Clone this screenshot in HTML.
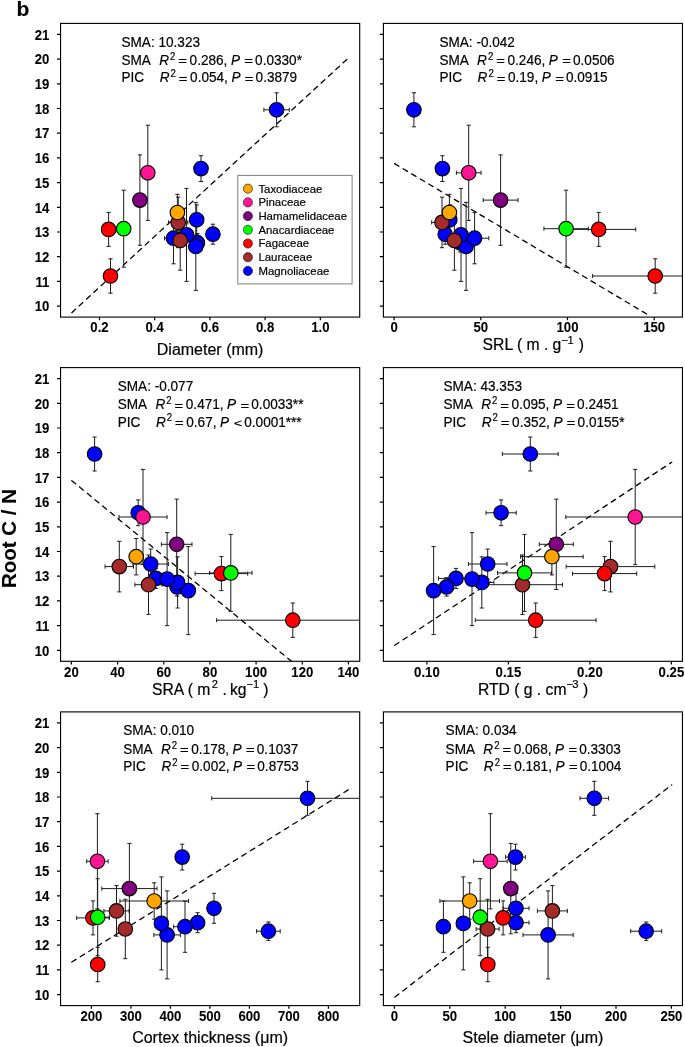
<!DOCTYPE html>
<html lang="en"><head><meta charset="utf-8"><title>Root C / N versus root traits</title>
<style>
html,body{margin:0;padding:0;background:#fff;}
body{width:685px;height:1047px;overflow:hidden;}
svg{display:block;font-family:"Liberation Sans",Arial,Helvetica,sans-serif;fill:#000;}
text{stroke:#000;stroke-width:0.2px;stroke-linejoin:round;}
.tk,.yl{stroke-width:0.08px;}
.tk{font-size:13.8px;font-weight:bold;}
.an{font-size:14.3px;}
.op{font-size:10.4px;}
.it{font-style:italic;}
.sup{font-size:10.1px;}
.xl{font-size:15.7px;}
.xs{font-size:11.2px;}
.lg{font-size:11.4px;}
.yl{font-size:20px;font-weight:bold;}
.fr{fill:none;stroke:#000;stroke-width:1.12;}
.ax{stroke:#000;stroke-width:1.2;fill:none;}
.eb{stroke:#1c1c1c;stroke-width:1.0;fill:none;}
.ds{stroke:#000;stroke-width:1.3;stroke-linecap:round;fill:none;}
.mk{stroke:#000;stroke-width:1.1;}
</style></head><body>
<svg width="685" height="1047" viewBox="0 0 685 1047">
<rect x="0" y="0" width="685" height="1047" fill="#fff"/>
<text class="yl" style="font-size:21px" x="16.5" y="15.7">b</text>
<text class="yl" style="font-size:20.5px" text-anchor="middle" transform="translate(15.7 538.5) rotate(-90)">Root C / N</text>
<g id="panel1">
<g>
<line class="ds" stroke-dasharray="5 4.97" x1="71.8" y1="312.67" x2="348.7" y2="57.69"/>
<path class="eb" d="M276.6 92.8V126.8M274.5 92.8h4.2M274.5 126.8h4.2M263.9 109.8H289.3M263.9 107.7v4.2M289.3 107.7v4.2M201 155.7V181.5M198.9 155.7h4.2M198.9 181.5h4.2M199 168.6H203M199 166.5v4.2M203 166.5v4.2M196.7 204.8V234.8M194.6 204.8h4.2M194.6 234.8h4.2M194.7 219.8H198.7M194.7 217.7v4.2M198.7 217.7v4.2M212.9 224.2V244.2M210.8 224.2h4.2M210.8 244.2h4.2M210.9 234.2H214.9M210.9 232.1v4.2M214.9 232.1v4.2M197.4 233.5V251.9M195.3 233.5h4.2M195.3 251.9h4.2M195.4 242.7H199.4M195.4 240.6v4.2M199.4 240.6v4.2M195.8 202.4V290.4M193.7 202.4h4.2M193.7 290.4h4.2M193.8 246.4H197.8M193.8 244.3v4.2M197.8 244.3v4.2M173.5 212.6V263.8M171.4 212.6h4.2M171.4 263.8h4.2M164.5 238.2H182.5M164.5 236.1v4.2M182.5 236.1v4.2M186.5 188.4V281.4M184.4 188.4h4.2M184.4 281.4h4.2M184.5 234.9H188.5M184.5 232.8v4.2M188.5 232.8v4.2M178.2 197.1V247.7M176.1 197.1h4.2M176.1 247.7h4.2M168.5 222.4H187.9M168.5 220.3v4.2M187.9 220.3v4.2M180.2 210.8V270.2M178.1 210.8h4.2M178.1 270.2h4.2M178.2 240.5H182.2M178.2 238.4v4.2M182.2 238.4v4.2M108.6 212.4V246.4M106.5 212.4h4.2M106.5 246.4h4.2M106.6 229.4H110.6M106.6 227.3v4.2M110.6 227.3v4.2M110.5 258.8V293.2M108.4 258.8h4.2M108.4 293.2h4.2M108.5 276H112.5M108.5 273.9v4.2M112.5 273.9v4.2M123.7 190.2V267.2M121.6 190.2h4.2M121.6 267.2h4.2M121.7 228.7H125.7M121.7 226.6v4.2M125.7 226.6v4.2M139.9 154.9V245.3M137.8 154.9h4.2M137.8 245.3h4.2M137.9 200.1H141.9M137.9 198v4.2M141.9 198v4.2M147.8 125.2V220.4M145.7 125.2h4.2M145.7 220.4h4.2M145.8 172.8H149.8M145.8 170.7v4.2M149.8 170.7v4.2M177.4 194.3V230.7M175.3 194.3h4.2M175.3 230.7h4.2M175.4 212.5H179.4M175.4 210.4v4.2M179.4 210.4v4.2"/>
<circle class="mk" cx="276.6" cy="109.8" r="7.28" fill="#0000FF"/>
<circle class="mk" cx="201" cy="168.6" r="7.28" fill="#0000FF"/>
<circle class="mk" cx="196.7" cy="219.8" r="7.28" fill="#0000FF"/>
<circle class="mk" cx="212.9" cy="234.2" r="7.28" fill="#0000FF"/>
<circle class="mk" cx="197.4" cy="242.7" r="7.28" fill="#0000FF"/>
<circle class="mk" cx="195.8" cy="246.4" r="7.28" fill="#0000FF"/>
<circle class="mk" cx="173.5" cy="238.2" r="7.28" fill="#0000FF"/>
<circle class="mk" cx="186.5" cy="234.9" r="7.28" fill="#0000FF"/>
<circle class="mk" cx="178.2" cy="222.4" r="7.28" fill="#A52A2A"/>
<circle class="mk" cx="180.2" cy="240.5" r="7.28" fill="#A52A2A"/>
<circle class="mk" cx="108.6" cy="229.4" r="7.28" fill="#FF0000"/>
<circle class="mk" cx="110.5" cy="276" r="7.28" fill="#FF0000"/>
<circle class="mk" cx="123.7" cy="228.7" r="7.28" fill="#00FF00"/>
<circle class="mk" cx="139.9" cy="200.1" r="7.28" fill="#800080"/>
<circle class="mk" cx="147.8" cy="172.8" r="7.28" fill="#FF1493"/>
<circle class="mk" cx="177.4" cy="212.5" r="7.28" fill="#FFA500"/>
</g>
<rect class="fr" x="60.55" y="23.4" width="299.15" height="293.7"/>
<path class="ax" d="M60.55 306.1h-3.6M60.55 281.4h-3.6M60.55 256.7h-3.6M60.55 232h-3.6M60.55 207.3h-3.6M60.55 182.6h-3.6M60.55 157.9h-3.6M60.55 133.2h-3.6M60.55 108.5h-3.6M60.55 83.8h-3.6M60.55 59.1h-3.6M60.55 34.4h-3.6M99.5 317.1v3.2M154.7 317.1v3.2M209.9 317.1v3.2M265.1 317.1v3.2M320.3 317.1v3.2"/>
<text class="tk" text-anchor="end" transform="translate(49.4 311.35) scale(0.955 1)">10</text>
<text class="tk" text-anchor="end" transform="translate(49.4 286.65) scale(0.955 1)">11</text>
<text class="tk" text-anchor="end" transform="translate(49.4 261.95) scale(0.955 1)">12</text>
<text class="tk" text-anchor="end" transform="translate(49.4 237.25) scale(0.955 1)">13</text>
<text class="tk" text-anchor="end" transform="translate(49.4 212.55) scale(0.955 1)">14</text>
<text class="tk" text-anchor="end" transform="translate(49.4 187.85) scale(0.955 1)">15</text>
<text class="tk" text-anchor="end" transform="translate(49.4 163.15) scale(0.955 1)">16</text>
<text class="tk" text-anchor="end" transform="translate(49.4 138.45) scale(0.955 1)">17</text>
<text class="tk" text-anchor="end" transform="translate(49.4 113.75) scale(0.955 1)">18</text>
<text class="tk" text-anchor="end" transform="translate(49.4 89.05) scale(0.955 1)">19</text>
<text class="tk" text-anchor="end" transform="translate(49.4 64.35) scale(0.955 1)">20</text>
<text class="tk" text-anchor="end" transform="translate(49.4 39.65) scale(0.955 1)">21</text>
<text class="tk" text-anchor="middle" transform="translate(99.5 332.4) scale(0.955 1)">0.2</text>
<text class="tk" text-anchor="middle" transform="translate(154.7 332.4) scale(0.955 1)">0.4</text>
<text class="tk" text-anchor="middle" transform="translate(209.9 332.4) scale(0.955 1)">0.6</text>
<text class="tk" text-anchor="middle" transform="translate(265.1 332.4) scale(0.955 1)">0.8</text>
<text class="tk" text-anchor="middle" transform="translate(320.3 332.4) scale(0.955 1)">1.0</text>
<text class="xl" style="font-size:16px" text-anchor="middle" x="210.125" y="354.5">Diameter (mm)</text>
<text class="an" transform="translate(121.5 46.9) scale(0.951 1)">SMA: 10.323</text>
<g transform="translate(121.5 64.9)"><text class="an" transform="scale(0.951 1)"><tspan x="0">SMA</tspan><tspan class="it" x="39.642">R</tspan><tspan class="sup" x="51.104" dy="-5.1">2</tspan><tspan x="71.609" dy="5.1">0.286,</tspan><tspan class="it" x="115.049">P</tspan><tspan x="140.496">0.0330*</tspan></text><text class="op" transform="translate(56.8 0.5) scale(1.42 1)">=</text><text class="op" transform="translate(122.812 0.5) scale(1.42 1)">=</text></g>
<g transform="translate(121.5 82.3)"><text class="an" transform="scale(0.951 1)"><tspan x="0">PIC</tspan><tspan class="it" x="40.168">R</tspan><tspan class="sup" x="51.63" dy="-5.1">2</tspan><tspan x="72.135" dy="5.1">0.054,</tspan><tspan class="it" x="115.575">P</tspan><tspan x="141.022">0.3879</tspan></text><text class="op" transform="translate(57.3 0.5) scale(1.42 1)">=</text><text class="op" transform="translate(123.312 0.5) scale(1.42 1)">=</text></g>
</g>
<g id="panel2">
<g>
<line class="ds" stroke-dasharray="5 4.945" x1="394.6" y1="163.68" x2="649" y2="315.4"/>
<path class="eb" d="M413.9 92.8V126.8M411.8 92.8h4.2M411.8 126.8h4.2M411.9 109.8H415.9M411.9 107.7v4.2M415.9 107.7v4.2M442.4 155.7V181.5M440.3 155.7h4.2M440.3 181.5h4.2M440.4 168.6H444.4M440.4 166.5v4.2M444.4 166.5v4.2M449.8 204.8V234.8M447.7 204.8h4.2M447.7 234.8h4.2M447.8 219.8H451.8M447.8 217.7v4.2M451.8 217.7v4.2M445.2 224.2V244.2M443.1 224.2h4.2M443.1 244.2h4.2M443.2 234.2H447.2M443.2 232.1v4.2M447.2 232.1v4.2M460 233.5V251.9M457.9 233.5h4.2M457.9 251.9h4.2M458 242.7H462M458 240.6v4.2M462 240.6v4.2M466.1 202.4V290.4M464 202.4h4.2M464 290.4h4.2M464.1 246.4H468.1M464.1 244.3v4.2M468.1 244.3v4.2M474.6 212.6V263.8M472.5 212.6h4.2M472.5 263.8h4.2M460.4 238.2H488.8M460.4 236.1v4.2M488.8 236.1v4.2M461 188.4V281.4M458.9 188.4h4.2M458.9 281.4h4.2M459 234.9H463M459 232.8v4.2M463 232.8v4.2M442 197.1V247.7M439.9 197.1h4.2M439.9 247.7h4.2M431.7 222.4H452.3M431.7 220.3v4.2M452.3 220.3v4.2M454.4 210.8V270.2M452.3 210.8h4.2M452.3 270.2h4.2M452.4 240.5H456.4M452.4 238.4v4.2M456.4 238.4v4.2M598.7 212.4V246.4M596.6 212.4h4.2M596.6 246.4h4.2M561.7 229.4H635.7M561.7 227.3v4.2M635.7 227.3v4.2M655.2 258.8V293.2M653.1 258.8h4.2M653.1 293.2h4.2M592.6 276H682.45M592.6 273.9v4.2M566.1 190.2V267.2M564 190.2h4.2M564 267.2h4.2M543.9 228.7H588.3M543.9 226.6v4.2M588.3 226.6v4.2M500.6 154.9V245.3M498.5 154.9h4.2M498.5 245.3h4.2M483.2 200.1H518M483.2 198v4.2M518 198v4.2M468.7 125.2V220.4M466.6 125.2h4.2M466.6 220.4h4.2M456.4 172.8H481M456.4 170.7v4.2M481 170.7v4.2M449.4 194.3V230.7M447.3 194.3h4.2M447.3 230.7h4.2M447.4 212.5H451.4M447.4 210.4v4.2M451.4 210.4v4.2"/>
<circle class="mk" cx="413.9" cy="109.8" r="7.28" fill="#0000FF"/>
<circle class="mk" cx="442.4" cy="168.6" r="7.28" fill="#0000FF"/>
<circle class="mk" cx="449.8" cy="219.8" r="7.28" fill="#0000FF"/>
<circle class="mk" cx="445.2" cy="234.2" r="7.28" fill="#0000FF"/>
<circle class="mk" cx="460" cy="242.7" r="7.28" fill="#0000FF"/>
<circle class="mk" cx="466.1" cy="246.4" r="7.28" fill="#0000FF"/>
<circle class="mk" cx="474.6" cy="238.2" r="7.28" fill="#0000FF"/>
<circle class="mk" cx="461" cy="234.9" r="7.28" fill="#0000FF"/>
<circle class="mk" cx="442" cy="222.4" r="7.28" fill="#A52A2A"/>
<circle class="mk" cx="454.4" cy="240.5" r="7.28" fill="#A52A2A"/>
<circle class="mk" cx="598.7" cy="229.4" r="7.28" fill="#FF0000"/>
<circle class="mk" cx="655.2" cy="276" r="7.28" fill="#FF0000"/>
<circle class="mk" cx="566.1" cy="228.7" r="7.28" fill="#00FF00"/>
<circle class="mk" cx="500.6" cy="200.1" r="7.28" fill="#800080"/>
<circle class="mk" cx="468.7" cy="172.8" r="7.28" fill="#FF1493"/>
<circle class="mk" cx="449.4" cy="212.5" r="7.28" fill="#FFA500"/>
</g>
<rect class="fr" x="383.4" y="23.4" width="299.05" height="293.7"/>
<path class="ax" d="M383.4 306.1h-3.6M383.4 281.4h-3.6M383.4 256.7h-3.6M383.4 232h-3.6M383.4 207.3h-3.6M383.4 182.6h-3.6M383.4 157.9h-3.6M383.4 133.2h-3.6M383.4 108.5h-3.6M383.4 83.8h-3.6M383.4 59.1h-3.6M383.4 34.4h-3.6M394.1 317.1v3.2M480.8 317.1v3.2M567.5 317.1v3.2M654.2 317.1v3.2"/>
<text class="tk" text-anchor="middle" transform="translate(394.1 332.4) scale(0.955 1)">0</text>
<text class="tk" text-anchor="middle" transform="translate(480.8 332.4) scale(0.955 1)">50</text>
<text class="tk" text-anchor="middle" transform="translate(567.5 332.4) scale(0.955 1)">100</text>
<text class="tk" text-anchor="middle" transform="translate(654.2 332.4) scale(0.955 1)">150</text>
<text class="xl"><tspan x="482.6" y="350.3">SRL ( m . g</tspan><tspan class="xs" x="561.5" y="343.9">−</tspan><tspan class="xs" x="567.5" y="343.9">1</tspan><tspan x="578.8" y="350.3">)</tspan></text>
<text class="an" transform="translate(439.4 46.9) scale(0.951 1)">SMA: -0.042</text>
<g transform="translate(439.4 64.9)"><text class="an" transform="scale(0.951 1)"><tspan x="0">SMA</tspan><tspan class="it" x="39.642">R</tspan><tspan class="sup" x="51.104" dy="-5.1">2</tspan><tspan x="71.609" dy="5.1">0.246,</tspan><tspan class="it" x="115.049">P</tspan><tspan x="140.496">0.0506</tspan></text><text class="op" transform="translate(56.8 0.5) scale(1.42 1)">=</text><text class="op" transform="translate(122.812 0.5) scale(1.42 1)">=</text></g>
<g transform="translate(439.4 82.3)"><text class="an" transform="scale(0.951 1)"><tspan x="0">PIC</tspan><tspan class="it" x="40.168">R</tspan><tspan class="sup" x="51.63" dy="-5.1">2</tspan><tspan x="72.135" dy="5.1">0.19,</tspan><tspan class="it" x="107.621">P</tspan><tspan x="133.068">0.0915</tspan></text><text class="op" transform="translate(57.3 0.5) scale(1.42 1)">=</text><text class="op" transform="translate(115.748 0.5) scale(1.42 1)">=</text></g>
</g>
<g id="panel3">
<g>
<line class="ds" stroke-dasharray="5 4.986" x1="71.8" y1="480.64" x2="291.195" y2="661.1"/>
<path class="eb" d="M94.6 437V471M92.5 437h4.2M92.5 471h4.2M92.6 454H96.6M92.6 451.9v4.2M96.6 451.9v4.2M138.2 499.9V525.7M136.1 499.9h4.2M136.1 525.7h4.2M136.2 512.8H140.2M136.2 510.7v4.2M140.2 510.7v4.2M150.7 549V579M148.6 549h4.2M148.6 579h4.2M133 564H168.4M133 561.9v4.2M168.4 561.9v4.2M155.9 568.4V588.4M153.8 568.4h4.2M153.8 588.4h4.2M153.9 578.4H157.9M153.9 576.3v4.2M157.9 576.3v4.2M177.1 577.7V596.1M175 577.7h4.2M175 596.1h4.2M175.1 586.9H179.1M175.1 584.8v4.2M179.1 584.8v4.2M188.3 546.6V634.6M186.2 546.6h4.2M186.2 634.6h4.2M186.3 590.6H190.3M186.3 588.5v4.2M190.3 588.5v4.2M177.6 556.8V608M175.5 556.8h4.2M175.5 608h4.2M175.6 582.4H179.6M175.6 580.3v4.2M179.6 580.3v4.2M167.1 532.6V625.6M165 532.6h4.2M165 625.6h4.2M165.1 579.1H169.1M165.1 577v4.2M169.1 577v4.2M119.3 541.3V591.9M117.2 541.3h4.2M117.2 591.9h4.2M105.1 566.6H133.5M105.1 564.5v4.2M133.5 564.5v4.2M148.5 555V614.4M146.4 555h4.2M146.4 614.4h4.2M134.9 584.7H162.1M134.9 582.6v4.2M162.1 582.6v4.2M221.4 556.6V590.6M219.3 556.6h4.2M219.3 590.6h4.2M195.1 573.6H247.7M195.1 571.5v4.2M247.7 571.5v4.2M292.8 603V637.4M290.7 603h4.2M290.7 637.4h4.2M216.6 620.2H359.7M216.6 618.1v4.2M230.8 534.4V611.4M228.7 534.4h4.2M228.7 611.4h4.2M209.6 572.9H252M209.6 570.8v4.2M252 570.8v4.2M176.7 499.1V589.5M174.6 499.1h4.2M174.6 589.5h4.2M161.4 544.3H192M161.4 542.2v4.2M192 542.2v4.2M143 469.4V564.6M140.9 469.4h4.2M140.9 564.6h4.2M119 517H167M119 514.9v4.2M167 514.9v4.2M136.2 538.5V574.9M134.1 538.5h4.2M134.1 574.9h4.2M134.2 556.7H138.2M134.2 554.6v4.2M138.2 554.6v4.2"/>
<circle class="mk" cx="94.6" cy="454" r="7.28" fill="#0000FF"/>
<circle class="mk" cx="138.2" cy="512.8" r="7.28" fill="#0000FF"/>
<circle class="mk" cx="150.7" cy="564" r="7.28" fill="#0000FF"/>
<circle class="mk" cx="155.9" cy="578.4" r="7.28" fill="#0000FF"/>
<circle class="mk" cx="177.1" cy="586.9" r="7.28" fill="#0000FF"/>
<circle class="mk" cx="188.3" cy="590.6" r="7.28" fill="#0000FF"/>
<circle class="mk" cx="177.6" cy="582.4" r="7.28" fill="#0000FF"/>
<circle class="mk" cx="167.1" cy="579.1" r="7.28" fill="#0000FF"/>
<circle class="mk" cx="119.3" cy="566.6" r="7.28" fill="#A52A2A"/>
<circle class="mk" cx="148.5" cy="584.7" r="7.28" fill="#A52A2A"/>
<circle class="mk" cx="221.4" cy="573.6" r="7.28" fill="#FF0000"/>
<circle class="mk" cx="292.8" cy="620.2" r="7.28" fill="#FF0000"/>
<circle class="mk" cx="230.8" cy="572.9" r="7.28" fill="#00FF00"/>
<circle class="mk" cx="176.7" cy="544.3" r="7.28" fill="#800080"/>
<circle class="mk" cx="143" cy="517" r="7.28" fill="#FF1493"/>
<circle class="mk" cx="136.2" cy="556.7" r="7.28" fill="#FFA500"/>
</g>
<rect class="fr" x="60.55" y="367.6" width="299.15" height="293.7"/>
<path class="ax" d="M60.55 650.3h-3.6M60.55 625.6h-3.6M60.55 600.9h-3.6M60.55 576.2h-3.6M60.55 551.5h-3.6M60.55 526.8h-3.6M60.55 502.1h-3.6M60.55 477.4h-3.6M60.55 452.7h-3.6M60.55 428h-3.6M60.55 403.3h-3.6M60.55 378.6h-3.6M71.4 661.3v3.2M117.6 661.3v3.2M163.8 661.3v3.2M209.9 661.3v3.2M256.1 661.3v3.2M302.3 661.3v3.2M348.4 661.3v3.2"/>
<text class="tk" text-anchor="end" transform="translate(49.4 655.55) scale(0.955 1)">10</text>
<text class="tk" text-anchor="end" transform="translate(49.4 630.85) scale(0.955 1)">11</text>
<text class="tk" text-anchor="end" transform="translate(49.4 606.15) scale(0.955 1)">12</text>
<text class="tk" text-anchor="end" transform="translate(49.4 581.45) scale(0.955 1)">13</text>
<text class="tk" text-anchor="end" transform="translate(49.4 556.75) scale(0.955 1)">14</text>
<text class="tk" text-anchor="end" transform="translate(49.4 532.05) scale(0.955 1)">15</text>
<text class="tk" text-anchor="end" transform="translate(49.4 507.35) scale(0.955 1)">16</text>
<text class="tk" text-anchor="end" transform="translate(49.4 482.65) scale(0.955 1)">17</text>
<text class="tk" text-anchor="end" transform="translate(49.4 457.95) scale(0.955 1)">18</text>
<text class="tk" text-anchor="end" transform="translate(49.4 433.25) scale(0.955 1)">19</text>
<text class="tk" text-anchor="end" transform="translate(49.4 408.55) scale(0.955 1)">20</text>
<text class="tk" text-anchor="end" transform="translate(49.4 383.85) scale(0.955 1)">21</text>
<text class="tk" text-anchor="middle" transform="translate(71.4 676.6) scale(0.955 1)">20</text>
<text class="tk" text-anchor="middle" transform="translate(117.6 676.6) scale(0.955 1)">40</text>
<text class="tk" text-anchor="middle" transform="translate(163.8 676.6) scale(0.955 1)">60</text>
<text class="tk" text-anchor="middle" transform="translate(209.9 676.6) scale(0.955 1)">80</text>
<text class="tk" text-anchor="middle" transform="translate(256.1 676.6) scale(0.955 1)">100</text>
<text class="tk" text-anchor="middle" transform="translate(302.3 676.6) scale(0.955 1)">120</text>
<text class="tk" text-anchor="middle" transform="translate(348.4 676.6) scale(0.955 1)">140</text>
<text class="xl"><tspan x="152" y="694.5">SRA ( m</tspan><tspan class="xs" x="211.8" y="688.1">2</tspan><tspan x="222.5" y="694.5">.</tspan><tspan x="230" y="694.5">kg</tspan><tspan class="xs" x="246.4" y="688.1">−</tspan><tspan class="xs" x="252.9" y="688.1">1</tspan><tspan x="263.3" y="694.5">)</tspan></text>
<text class="an" transform="translate(117.7 391.1) scale(0.951 1)">SMA: -0.077</text>
<g transform="translate(117.7 409.1)"><text class="an" transform="scale(0.951 1)"><tspan x="0">SMA</tspan><tspan class="it" x="39.642">R</tspan><tspan class="sup" x="51.104" dy="-5.1">2</tspan><tspan x="71.609" dy="5.1">0.471,</tspan><tspan class="it" x="115.049">P</tspan><tspan x="140.496">0.0033**</tspan></text><text class="op" transform="translate(56.8 0.5) scale(1.42 1)">=</text><text class="op" transform="translate(122.812 0.5) scale(1.42 1)">=</text></g>
<g transform="translate(117.7 426.5)"><text class="an" transform="scale(0.951 1)"><tspan x="0">PIC</tspan><tspan class="it" x="40.168">R</tspan><tspan class="sup" x="51.63" dy="-5.1">2</tspan><tspan x="72.135" dy="5.1">0.67,</tspan><tspan class="it" x="107.621">P</tspan><tspan x="133.068">0.0001***</tspan></text><text class="op" transform="translate(57.3 0.5) scale(1.42 1)">=</text><text class="op" style="font-size:11.4px" transform="translate(116.048 0) scale(1.26 1)">&lt;</text></g>
</g>
<g id="panel4">
<g>
<line class="ds" stroke-dasharray="5 4.985" x1="394.75" y1="645.33" x2="671.7" y2="462.23"/>
<path class="eb" d="M530.3 437V471M528.2 437h4.2M528.2 471h4.2M502.4 454H558.2M502.4 451.9v4.2M558.2 451.9v4.2M501.1 499.9V525.7M499 499.9h4.2M499 525.7h4.2M486 512.8H516.2M486 510.7v4.2M516.2 510.7v4.2M487.7 549V579M485.6 549h4.2M485.6 579h4.2M468.4 564H507M468.4 561.9v4.2M507 561.9v4.2M456 568.4V588.4M453.9 568.4h4.2M453.9 588.4h4.2M438.5 578.4H473.5M438.5 576.3v4.2M473.5 576.3v4.2M446.6 577.7V596.1M444.5 577.7h4.2M444.5 596.1h4.2M444.6 586.9H448.6M444.6 584.8v4.2M448.6 584.8v4.2M433.6 546.6V634.6M431.5 546.6h4.2M431.5 634.6h4.2M431.6 590.6H435.6M431.6 588.5v4.2M435.6 588.5v4.2M481.8 556.8V608M479.7 556.8h4.2M479.7 608h4.2M469.7 582.4H493.9M469.7 580.3v4.2M493.9 580.3v4.2M472 532.6V625.6M469.9 532.6h4.2M469.9 625.6h4.2M470 579.1H474M470 577v4.2M474 577v4.2M610.5 541.3V591.9M608.4 541.3h4.2M608.4 591.9h4.2M566.2 566.6H654.8M566.2 564.5v4.2M654.8 564.5v4.2M522.5 555V614.4M520.4 555h4.2M520.4 614.4h4.2M482.5 584.7H562.5M482.5 582.6v4.2M562.5 582.6v4.2M604.6 556.6V590.6M602.5 556.6h4.2M602.5 590.6h4.2M572.5 573.6H636.7M572.5 571.5v4.2M636.7 571.5v4.2M535.7 603V637.4M533.6 603h4.2M533.6 637.4h4.2M475.3 620.2H596.1M475.3 618.1v4.2M596.1 618.1v4.2M524.5 534.4V611.4M522.4 534.4h4.2M522.4 611.4h4.2M497.5 572.9H551.5M497.5 570.8v4.2M551.5 570.8v4.2M556.3 499.1V589.5M554.2 499.1h4.2M554.2 589.5h4.2M539.3 544.3H573.3M539.3 542.2v4.2M573.3 542.2v4.2M635.2 469.4V564.6M633.1 469.4h4.2M633.1 564.6h4.2M565.8 517H682.45M565.8 514.9v4.2M551.9 538.5V574.9M549.8 538.5h4.2M549.8 574.9h4.2M520.6 556.7H583.2M520.6 554.6v4.2M583.2 554.6v4.2"/>
<circle class="mk" cx="530.3" cy="454" r="7.28" fill="#0000FF"/>
<circle class="mk" cx="501.1" cy="512.8" r="7.28" fill="#0000FF"/>
<circle class="mk" cx="487.7" cy="564" r="7.28" fill="#0000FF"/>
<circle class="mk" cx="456" cy="578.4" r="7.28" fill="#0000FF"/>
<circle class="mk" cx="446.6" cy="586.9" r="7.28" fill="#0000FF"/>
<circle class="mk" cx="433.6" cy="590.6" r="7.28" fill="#0000FF"/>
<circle class="mk" cx="481.8" cy="582.4" r="7.28" fill="#0000FF"/>
<circle class="mk" cx="472" cy="579.1" r="7.28" fill="#0000FF"/>
<circle class="mk" cx="610.5" cy="566.6" r="7.28" fill="#A52A2A"/>
<circle class="mk" cx="522.5" cy="584.7" r="7.28" fill="#A52A2A"/>
<circle class="mk" cx="604.6" cy="573.6" r="7.28" fill="#FF0000"/>
<circle class="mk" cx="535.7" cy="620.2" r="7.28" fill="#FF0000"/>
<circle class="mk" cx="524.5" cy="572.9" r="7.28" fill="#00FF00"/>
<circle class="mk" cx="556.3" cy="544.3" r="7.28" fill="#800080"/>
<circle class="mk" cx="635.2" cy="517" r="7.28" fill="#FF1493"/>
<circle class="mk" cx="551.9" cy="556.7" r="7.28" fill="#FFA500"/>
</g>
<rect class="fr" x="383.4" y="367.6" width="299.05" height="293.7"/>
<path class="ax" d="M383.4 650.3h-3.6M383.4 625.6h-3.6M383.4 600.9h-3.6M383.4 576.2h-3.6M383.4 551.5h-3.6M383.4 526.8h-3.6M383.4 502.1h-3.6M383.4 477.4h-3.6M383.4 452.7h-3.6M383.4 428h-3.6M383.4 403.3h-3.6M383.4 378.6h-3.6M426.9 661.3v3.2M508.4 661.3v3.2M589.9 661.3v3.2M671.4 661.3v3.2"/>
<text class="tk" text-anchor="middle" transform="translate(426.9 676.6) scale(0.955 1)">0.10</text>
<text class="tk" text-anchor="middle" transform="translate(508.4 676.6) scale(0.955 1)">0.15</text>
<text class="tk" text-anchor="middle" transform="translate(589.9 676.6) scale(0.955 1)">0.20</text>
<text class="tk" text-anchor="middle" transform="translate(671.4 676.6) scale(0.955 1)">0.25</text>
<text class="xl"><tspan x="477.9" y="694.5">RTD ( g . cm</tspan><tspan class="xs" x="566.4" y="688.1">−</tspan><tspan class="xs" x="572.2" y="688.1">3</tspan><tspan x="582.9" y="694.5">)</tspan></text>
<text class="an" transform="translate(443.5 391.1) scale(0.951 1)">SMA: 43.353</text>
<g transform="translate(443.5 409.1)"><text class="an" transform="scale(0.951 1)"><tspan x="0">SMA</tspan><tspan class="it" x="39.642">R</tspan><tspan class="sup" x="51.104" dy="-5.1">2</tspan><tspan x="71.609" dy="5.1">0.095,</tspan><tspan class="it" x="115.049">P</tspan><tspan x="140.496">0.2451</tspan></text><text class="op" transform="translate(56.8 0.5) scale(1.42 1)">=</text><text class="op" transform="translate(122.812 0.5) scale(1.42 1)">=</text></g>
<g transform="translate(443.5 426.5)"><text class="an" transform="scale(0.951 1)"><tspan x="0">PIC</tspan><tspan class="it" x="40.168">R</tspan><tspan class="sup" x="51.63" dy="-5.1">2</tspan><tspan x="72.135" dy="5.1">0.352,</tspan><tspan class="it" x="115.575">P</tspan><tspan x="141.022">0.0155*</tspan></text><text class="op" transform="translate(57.3 0.5) scale(1.42 1)">=</text><text class="op" transform="translate(123.312 0.5) scale(1.42 1)">=</text></g>
</g>
<g id="panel5">
<g>
<line class="ds" stroke-dasharray="5 5.02" x1="71.8" y1="962.04" x2="348.7" y2="789.6"/>
<path class="eb" d="M307.5 781.3V815.3M305.4 781.3h4.2M305.4 815.3h4.2M211.7 798.3H359.7M211.7 796.2v4.2M182.2 844.2V870M180.1 844.2h4.2M180.1 870h4.2M180.2 857.1H184.2M180.2 855v4.2M184.2 855v4.2M214 893.3V923.3M211.9 893.3h4.2M211.9 923.3h4.2M212 908.3H216M212 906.2v4.2M216 906.2v4.2M197.6 912.7V932.7M195.5 912.7h4.2M195.5 932.7h4.2M195.6 922.7H199.6M195.6 920.6v4.2M199.6 920.6v4.2M268.4 922V940.4M266.3 922h4.2M266.3 940.4h4.2M256.6 931.2H280.2M256.6 929.1v4.2M280.2 929.1v4.2M167.1 890.9V978.9M165 890.9h4.2M165 978.9h4.2M153.8 934.9H180.4M153.8 932.8v4.2M180.4 932.8v4.2M185 901.1V952.3M182.9 901.1h4.2M182.9 952.3h4.2M173.6 926.7H196.4M173.6 924.6v4.2M196.4 924.6v4.2M161.4 876.9V969.9M159.3 876.9h4.2M159.3 969.9h4.2M159.4 923.4H163.4M159.4 921.3v4.2M163.4 921.3v4.2M116.5 885.6V936.2M114.4 885.6h4.2M114.4 936.2h4.2M103.9 910.9H129.1M103.9 908.8v4.2M129.1 908.8v4.2M125.3 899.3V958.7M123.2 899.3h4.2M123.2 958.7h4.2M123.3 929H127.3M123.3 926.9v4.2M127.3 926.9v4.2M93 900.9V934.9M90.9 900.9h4.2M90.9 934.9h4.2M76.7 917.9H109.3M76.7 915.8v4.2M109.3 915.8v4.2M97.7 947.3V981.7M95.6 947.3h4.2M95.6 981.7h4.2M95.7 964.5H99.7M95.7 962.4v4.2M99.7 962.4v4.2M97.7 878.7V955.7M95.6 878.7h4.2M95.6 955.7h4.2M86.1 917.2H109.3M86.1 915.1v4.2M109.3 915.1v4.2M129.4 843.4V933.8M127.3 843.4h4.2M127.3 933.8h4.2M101.8 888.6H157M101.8 886.5v4.2M157 886.5v4.2M97.4 813.7V908.9M95.3 813.7h4.2M95.3 908.9h4.2M86.7 861.3H108.1M86.7 859.2v4.2M108.1 859.2v4.2M154.2 882.8V919.2M152.1 882.8h4.2M152.1 919.2h4.2M119.9 901H188.5M119.9 898.9v4.2M188.5 898.9v4.2"/>
<circle class="mk" cx="307.5" cy="798.3" r="7.28" fill="#0000FF"/>
<circle class="mk" cx="182.2" cy="857.1" r="7.28" fill="#0000FF"/>
<circle class="mk" cx="214" cy="908.3" r="7.28" fill="#0000FF"/>
<circle class="mk" cx="197.6" cy="922.7" r="7.28" fill="#0000FF"/>
<circle class="mk" cx="268.4" cy="931.2" r="7.28" fill="#0000FF"/>
<circle class="mk" cx="167.1" cy="934.9" r="7.28" fill="#0000FF"/>
<circle class="mk" cx="185" cy="926.7" r="7.28" fill="#0000FF"/>
<circle class="mk" cx="161.4" cy="923.4" r="7.28" fill="#0000FF"/>
<circle class="mk" cx="116.5" cy="910.9" r="7.28" fill="#A52A2A"/>
<circle class="mk" cx="125.3" cy="929" r="7.28" fill="#A52A2A"/>
<circle class="mk" cx="93" cy="917.9" r="7.28" fill="#FF0000"/>
<circle class="mk" cx="97.7" cy="964.5" r="7.28" fill="#FF0000"/>
<circle class="mk" cx="97.7" cy="917.2" r="7.28" fill="#00FF00"/>
<circle class="mk" cx="129.4" cy="888.6" r="7.28" fill="#800080"/>
<circle class="mk" cx="97.4" cy="861.3" r="7.28" fill="#FF1493"/>
<circle class="mk" cx="154.2" cy="901" r="7.28" fill="#FFA500"/>
</g>
<rect class="fr" x="60.55" y="711.9" width="299.15" height="293.7"/>
<path class="ax" d="M60.55 994.6h-3.6M60.55 969.9h-3.6M60.55 945.2h-3.6M60.55 920.5h-3.6M60.55 895.8h-3.6M60.55 871.1h-3.6M60.55 846.4h-3.6M60.55 821.7h-3.6M60.55 797h-3.6M60.55 772.3h-3.6M60.55 747.6h-3.6M60.55 722.9h-3.6M91.4 1005.6v3.2M130.9 1005.6v3.2M170.4 1005.6v3.2M209.9 1005.6v3.2M249.4 1005.6v3.2M288.9 1005.6v3.2M328.4 1005.6v3.2"/>
<text class="tk" text-anchor="end" transform="translate(49.4 999.85) scale(0.955 1)">10</text>
<text class="tk" text-anchor="end" transform="translate(49.4 975.15) scale(0.955 1)">11</text>
<text class="tk" text-anchor="end" transform="translate(49.4 950.45) scale(0.955 1)">12</text>
<text class="tk" text-anchor="end" transform="translate(49.4 925.75) scale(0.955 1)">13</text>
<text class="tk" text-anchor="end" transform="translate(49.4 901.05) scale(0.955 1)">14</text>
<text class="tk" text-anchor="end" transform="translate(49.4 876.35) scale(0.955 1)">15</text>
<text class="tk" text-anchor="end" transform="translate(49.4 851.65) scale(0.955 1)">16</text>
<text class="tk" text-anchor="end" transform="translate(49.4 826.95) scale(0.955 1)">17</text>
<text class="tk" text-anchor="end" transform="translate(49.4 802.25) scale(0.955 1)">18</text>
<text class="tk" text-anchor="end" transform="translate(49.4 777.55) scale(0.955 1)">19</text>
<text class="tk" text-anchor="end" transform="translate(49.4 752.85) scale(0.955 1)">20</text>
<text class="tk" text-anchor="end" transform="translate(49.4 728.15) scale(0.955 1)">21</text>
<text class="tk" text-anchor="middle" transform="translate(91.4 1020.9) scale(0.955 1)">200</text>
<text class="tk" text-anchor="middle" transform="translate(130.9 1020.9) scale(0.955 1)">300</text>
<text class="tk" text-anchor="middle" transform="translate(170.4 1020.9) scale(0.955 1)">400</text>
<text class="tk" text-anchor="middle" transform="translate(209.9 1020.9) scale(0.955 1)">500</text>
<text class="tk" text-anchor="middle" transform="translate(249.4 1020.9) scale(0.955 1)">600</text>
<text class="tk" text-anchor="middle" transform="translate(288.9 1020.9) scale(0.955 1)">700</text>
<text class="tk" text-anchor="middle" transform="translate(328.4 1020.9) scale(0.955 1)">800</text>
<text class="xl" style="font-size:16px" text-anchor="middle" x="210.125" y="1043">Cortex thickness (μm)</text>
<text class="an" transform="translate(123.2 735.4) scale(0.951 1)">SMA: 0.010</text>
<g transform="translate(123.2 753.9)"><text class="an" transform="scale(0.951 1)"><tspan x="0">SMA</tspan><tspan class="it" x="39.642">R</tspan><tspan class="sup" x="51.104" dy="-5.1">2</tspan><tspan x="71.609" dy="5.1">0.178,</tspan><tspan class="it" x="115.049">P</tspan><tspan x="140.496">0.1037</tspan></text><text class="op" transform="translate(56.8 0.5) scale(1.42 1)">=</text><text class="op" transform="translate(122.812 0.5) scale(1.42 1)">=</text></g>
<g transform="translate(123.2 770.8)"><text class="an" transform="scale(0.951 1)"><tspan x="0">PIC</tspan><tspan class="it" x="40.168">R</tspan><tspan class="sup" x="51.63" dy="-5.1">2</tspan><tspan x="72.135" dy="5.1">0.002,</tspan><tspan class="it" x="115.575">P</tspan><tspan x="141.022">0.8753</tspan></text><text class="op" transform="translate(57.3 0.5) scale(1.42 1)">=</text><text class="op" transform="translate(123.312 0.5) scale(1.42 1)">=</text></g>
</g>
<g id="panel6">
<g>
<line class="ds" stroke-dasharray="5 4.96" x1="394.9" y1="997" x2="671.7" y2="785"/>
<path class="eb" d="M594.3 781.3V815.3M592.2 781.3h4.2M592.2 815.3h4.2M580 798.3H608.6M580 796.2v4.2M608.6 796.2v4.2M515.5 844.2V870M513.4 844.2h4.2M513.4 870h4.2M505.6 857.1H525.4M505.6 855v4.2M525.4 855v4.2M516 893.3V923.3M513.9 893.3h4.2M513.9 923.3h4.2M503 908.3H529M503 906.2v4.2M529 906.2v4.2M516 912.7V932.7M513.9 912.7h4.2M513.9 932.7h4.2M503 922.7H529M503 920.6v4.2M529 920.6v4.2M646.2 922V940.4M644.1 922h4.2M644.1 940.4h4.2M630.7 931.2H661.7M630.7 929.1v4.2M661.7 929.1v4.2M548.1 890.9V978.9M546 890.9h4.2M546 978.9h4.2M523 934.9H573.2M523 932.8v4.2M573.2 932.8v4.2M443.4 901.1V952.3M441.3 901.1h4.2M441.3 952.3h4.2M441.4 926.7H445.4M441.4 924.6v4.2M445.4 924.6v4.2M463.3 876.9V969.9M461.2 876.9h4.2M461.2 969.9h4.2M461.3 923.4H465.3M461.3 921.3v4.2M465.3 921.3v4.2M552.4 885.6V936.2M550.3 885.6h4.2M550.3 936.2h4.2M537.4 910.9H567.4M537.4 908.8v4.2M567.4 908.8v4.2M487.6 899.3V958.7M485.5 899.3h4.2M485.5 958.7h4.2M476.1 929H499.1M476.1 926.9v4.2M499.1 926.9v4.2M503.1 900.9V934.9M501 900.9h4.2M501 934.9h4.2M501.1 917.9H505.1M501.1 915.8v4.2M505.1 915.8v4.2M487.8 947.3V981.7M485.7 947.3h4.2M485.7 981.7h4.2M485.8 964.5H489.8M485.8 962.4v4.2M489.8 962.4v4.2M480.2 878.7V955.7M478.1 878.7h4.2M478.1 955.7h4.2M478.2 917.2H482.2M478.2 915.1v4.2M482.2 915.1v4.2M510.8 843.4V933.8M508.7 843.4h4.2M508.7 933.8h4.2M508.8 888.6H512.8M508.8 886.5v4.2M512.8 886.5v4.2M490.4 813.7V908.9M488.3 813.7h4.2M488.3 908.9h4.2M473.6 861.3H507.2M473.6 859.2v4.2M507.2 859.2v4.2M469.7 882.8V919.2M467.6 882.8h4.2M467.6 919.2h4.2M439.9 901H499.5M439.9 898.9v4.2M499.5 898.9v4.2"/>
<circle class="mk" cx="594.3" cy="798.3" r="7.28" fill="#0000FF"/>
<circle class="mk" cx="515.5" cy="857.1" r="7.28" fill="#0000FF"/>
<circle class="mk" cx="516" cy="908.3" r="7.28" fill="#0000FF"/>
<circle class="mk" cx="516" cy="922.7" r="7.28" fill="#0000FF"/>
<circle class="mk" cx="646.2" cy="931.2" r="7.28" fill="#0000FF"/>
<circle class="mk" cx="548.1" cy="934.9" r="7.28" fill="#0000FF"/>
<circle class="mk" cx="443.4" cy="926.7" r="7.28" fill="#0000FF"/>
<circle class="mk" cx="463.3" cy="923.4" r="7.28" fill="#0000FF"/>
<circle class="mk" cx="552.4" cy="910.9" r="7.28" fill="#A52A2A"/>
<circle class="mk" cx="487.6" cy="929" r="7.28" fill="#A52A2A"/>
<circle class="mk" cx="503.1" cy="917.9" r="7.28" fill="#FF0000"/>
<circle class="mk" cx="487.8" cy="964.5" r="7.28" fill="#FF0000"/>
<circle class="mk" cx="480.2" cy="917.2" r="7.28" fill="#00FF00"/>
<circle class="mk" cx="510.8" cy="888.6" r="7.28" fill="#800080"/>
<circle class="mk" cx="490.4" cy="861.3" r="7.28" fill="#FF1493"/>
<circle class="mk" cx="469.7" cy="901" r="7.28" fill="#FFA500"/>
</g>
<rect class="fr" x="383.4" y="711.9" width="299.05" height="293.7"/>
<path class="ax" d="M383.4 994.6h-3.6M383.4 969.9h-3.6M383.4 945.2h-3.6M383.4 920.5h-3.6M383.4 895.8h-3.6M383.4 871.1h-3.6M383.4 846.4h-3.6M383.4 821.7h-3.6M383.4 797h-3.6M383.4 772.3h-3.6M383.4 747.6h-3.6M383.4 722.9h-3.6M394.4 1005.6v3.2M449.8 1005.6v3.2M505.2 1005.6v3.2M560.6 1005.6v3.2M616 1005.6v3.2M671.4 1005.6v3.2"/>
<text class="tk" text-anchor="middle" transform="translate(394.4 1020.9) scale(0.955 1)">0</text>
<text class="tk" text-anchor="middle" transform="translate(449.8 1020.9) scale(0.955 1)">50</text>
<text class="tk" text-anchor="middle" transform="translate(505.2 1020.9) scale(0.955 1)">100</text>
<text class="tk" text-anchor="middle" transform="translate(560.6 1020.9) scale(0.955 1)">150</text>
<text class="tk" text-anchor="middle" transform="translate(616 1020.9) scale(0.955 1)">200</text>
<text class="tk" text-anchor="middle" transform="translate(671.4 1020.9) scale(0.955 1)">250</text>
<text class="xl" style="font-size:16px" text-anchor="middle" x="532.925" y="1043">Stele diameter (μm)</text>
<text class="an" transform="translate(445.6 735.4) scale(0.951 1)">SMA: 0.034</text>
<g transform="translate(445.6 753.9)"><text class="an" transform="scale(0.951 1)"><tspan x="0">SMA</tspan><tspan class="it" x="39.642">R</tspan><tspan class="sup" x="51.104" dy="-5.1">2</tspan><tspan x="71.609" dy="5.1">0.068,</tspan><tspan class="it" x="115.049">P</tspan><tspan x="140.496">0.3303</tspan></text><text class="op" transform="translate(56.8 0.5) scale(1.42 1)">=</text><text class="op" transform="translate(122.812 0.5) scale(1.42 1)">=</text></g>
<g transform="translate(445.6 770.8)"><text class="an" transform="scale(0.951 1)"><tspan x="0">PIC</tspan><tspan class="it" x="40.168">R</tspan><tspan class="sup" x="51.63" dy="-5.1">2</tspan><tspan x="72.135" dy="5.1">0.181,</tspan><tspan class="it" x="115.575">P</tspan><tspan x="141.022">0.1004</tspan></text><text class="op" transform="translate(57.3 0.5) scale(1.42 1)">=</text><text class="op" transform="translate(123.312 0.5) scale(1.42 1)">=</text></g>
</g>
<g id="legend">
<rect x="237.8" y="175.4" width="114.3" height="108.5" fill="#fff" stroke="#7f7f7f" stroke-width="1"/>
<circle cx="247.9" cy="188.7" r="4.6" fill="#FFA500" stroke="#1a1a1a" stroke-width="0.65"/>
<text class="lg" x="258.4" y="192.6">Taxodiaceae</text>
<circle cx="247.9" cy="202.4" r="4.6" fill="#FF1493" stroke="#1a1a1a" stroke-width="0.65"/>
<text class="lg" x="258.4" y="206.3">Pinaceae</text>
<circle cx="247.9" cy="216.1" r="4.6" fill="#800080" stroke="#1a1a1a" stroke-width="0.65"/>
<text class="lg" x="258.4" y="220">Hamamelidaceae</text>
<circle cx="247.9" cy="229.8" r="4.6" fill="#00FF00" stroke="#1a1a1a" stroke-width="0.65"/>
<text class="lg" x="258.4" y="233.7">Anacardiaceae</text>
<circle cx="247.9" cy="243.5" r="4.6" fill="#FF0000" stroke="#1a1a1a" stroke-width="0.65"/>
<text class="lg" x="258.4" y="247.4">Fagaceae</text>
<circle cx="247.9" cy="257.2" r="4.6" fill="#A52A2A" stroke="#1a1a1a" stroke-width="0.65"/>
<text class="lg" x="258.4" y="261.1">Lauraceae</text>
<circle cx="247.9" cy="270.9" r="4.6" fill="#0000FF" stroke="#1a1a1a" stroke-width="0.65"/>
<text class="lg" x="258.4" y="274.8">Magnoliaceae</text>
</g>
</svg></body></html>
